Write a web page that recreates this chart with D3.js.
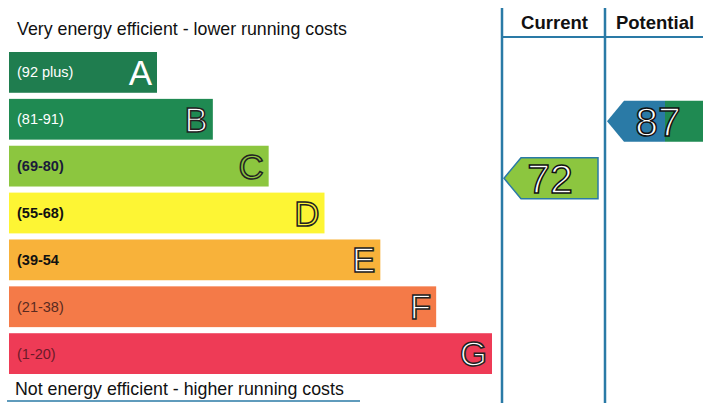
<!DOCTYPE html>
<html><head><meta charset="utf-8">
<script src="https://cdn.jsdelivr.net/npm/d3@7"></script>
<style>body{margin:0;background:#fff}svg{display:block}text{font-family:"Liberation Sans",Arial,sans-serif}</style>
</head><body><svg id="c" width="703" height="403"></svg>
<script>
const bands = ["A","B","C","D","E","F","G"];
const ranges = ["(92 plus)","(81-91)","(69-80)","(55-68)","(39-54","(21-38)","(1-20)"];
const bandColors = ["#1f7d4f","#1f8a52","#8cc63f","#fdf534","#f8b23a","#f47a48","#ee3b56"];
const labelColors = ["#fff","#fff","#1a1a3a","#111","#111","#5a2a20","#6a1a28"];
const letterFill = ["#fff","#fff","#8cc63f","#fdf534","#fff","#fff","#fff"];
const columns = ["Current","Potential"];
const ratings = [72, 87];
const arrowColors = ["#8cc63f","#1f8a52"];
const bandMin = [92,81,69,55,39,21,1];

const svg = d3.select("#c");
const blue = "#2a7aa6";

const y = d3.scaleBand().domain(bands).range([52, 374]).paddingInner(0.13).paddingOuter(0);
const w = d3.scaleLinear().domain([0,6]).range([148, 483]);

// titles
svg.append("text").attr("x",17).attr("y",35).attr("font-size",17.8).attr("fill","#111").text("Very energy efficient - lower running costs");
svg.append("text").attr("x",15).attr("y",395).attr("font-size",17.8).attr("fill","#111").text("Not energy efficient - higher running costs");
svg.append("line").attr("x1",7).attr("x2",360).attr("y1",401).attr("y2",401).attr("stroke",blue).attr("stroke-width",1.5);

// bars
const g = svg.append("g");
bands.forEach((b,i)=>{
  const yy = y(b), h = y.bandwidth(), ww = w(i);
  g.append("rect").attr("x",9).attr("y",yy).attr("width",ww).attr("height",h).attr("fill",bandColors[i]);
  g.append("text").attr("x",17).attr("y",yy+h/2+5).attr("font-size",14.5)
    .attr("font-weight", i>=2 && i<=4 ? "bold" : "normal")
    .attr("fill",labelColors[i]).text(ranges[i]);
  g.append("text").attr("x",9+ww-5).attr("y",yy+h/2+12.5).attr("text-anchor","end")
    .attr("font-size",35).attr("fill",letterFill[i])
    .attr("stroke", i===0 ? "none" : "#222").attr("stroke-width",1.5)
    .text(b);
});

// grid
const colX = [502, 605, 703];
svg.append("line").attr("x1",502).attr("x2",502).attr("y1",8).attr("y2",403).attr("stroke",blue).attr("stroke-width",2.5);
svg.append("line").attr("x1",605).attr("x2",605).attr("y1",8).attr("y2",403).attr("stroke",blue).attr("stroke-width",2.5);
svg.append("line").attr("x1",502).attr("x2",703).attr("y1",37).attr("y2",37).attr("stroke",blue).attr("stroke-width",2);
columns.forEach((c,i)=>{
  svg.append("text").attr("x",(colX[i]+colX[i+1])/2+1).attr("y",29).attr("text-anchor","middle")
    .attr("font-size",18.5).attr("font-weight","bold").attr("fill","#111").text(c);
});

// arrows
const defs = svg.append("defs");
const grad = defs.append("linearGradient").attr("id","pg").attr("x1","0").attr("x2","1");
grad.append("stop").attr("offset","0.6").attr("stop-color",blue);
grad.append("stop").attr("offset","0.6").attr("stop-color","#1f8a52");
const offs = [12, 2];
ratings.forEach((r,i)=>{
  const bi = bandMin.findIndex(m=>r>=m);
  const top = y(bands[bi]) + offs[i], h = 41;
  const x0 = colX[i]+2, x1 = i===0 ? 598 : 703, tip = 17;
  const pts = [[x0,top+h/2],[x0+tip,top],[x1,top],[x1,top+h],[x0+tip,top+h]];
  svg.append("polygon").attr("points",pts.map(p=>p.join(",")).join(" "))
    .attr("fill", i===0 ? arrowColors[0] : "url(#pg)")
    .attr("stroke", i===0 ? blue : "none").attr("stroke-width",1.5);
  svg.append("text").attr("x", i===0 ? 550 : 658).attr("y",top+h/2+15).attr("text-anchor","middle")
    .attr("font-size",41).attr("fill","#fff").attr("stroke","#111").attr("stroke-width",1.5).text(r);
});
</script></body></html>
